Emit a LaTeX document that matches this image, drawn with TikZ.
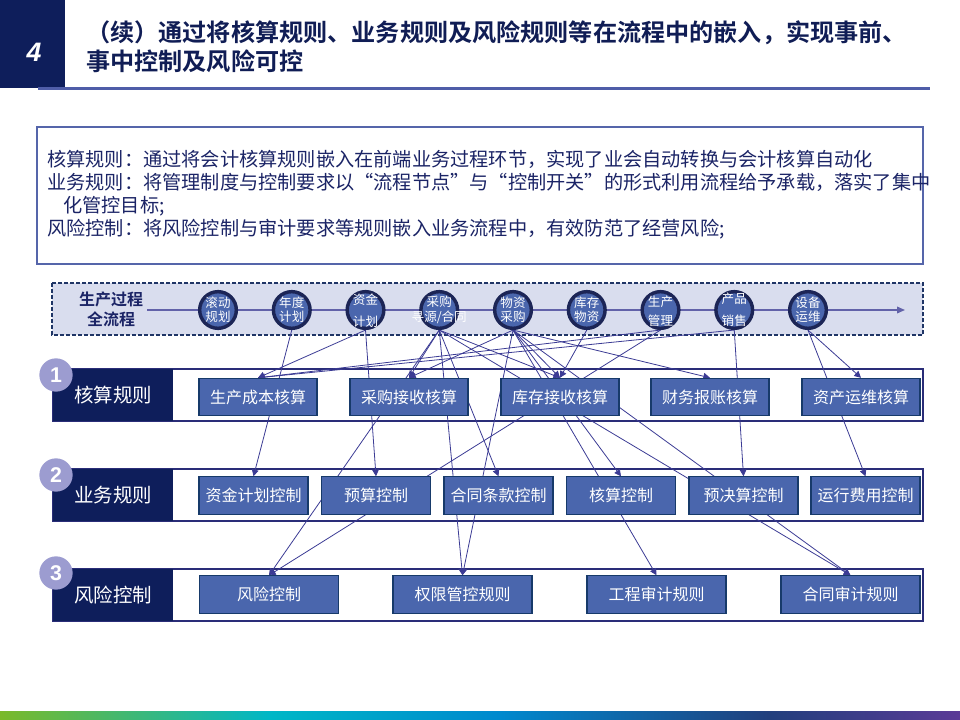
\documentclass[tikz,border=0pt]{standalone}
\usepackage{fontspec}
\setmainfont{Noto Sans CJK SC}[BoldFont={Noto Sans CJK SC Bold}]
\newfontfamily\numfont{Liberation Sans}
\usetikzlibrary{arrows.meta}

\definecolor{navy}{HTML}{0E1E5B}
\definecolor{titlecol}{HTML}{101D55}
\definecolor{boxblue}{HTML}{4A66AD}
\definecolor{boxedge}{HTML}{173A6A}
\definecolor{bandedge}{HTML}{2A2D78}
\definecolor{linkcol}{HTML}{3B3B94}
\definecolor{tagcol}{HTML}{9C9CD0}
\definecolor{flowfill}{HTML}{D9DDEE}
\definecolor{flowedge}{HTML}{1F3566}
\definecolor{ringcol}{HTML}{1C2556}
\definecolor{textcol}{HTML}{1B2466}
\definecolor{noteedge}{HTML}{5565AA}
\definecolor{barcol}{HTML}{4F5DA8}
\definecolor{fgreen}{HTML}{7AB929}
\definecolor{fcyan}{HTML}{00B7C6}
\definecolor{fblue}{HTML}{0089CE}
\definecolor{fnavy}{HTML}{213F7D}
\definecolor{fpurple}{HTML}{5B3A97}

% the path covers 25bp..75bp of the shading
\pgfdeclarehorizontalshading{footbar}{100bp}{color(0bp)=(fgreen); color(25bp)=(fgreen); color(39bp)=(fcyan); color(51bp)=(fblue); color(65bp)=(fnavy); color(75bp)=(fpurple); color(100bp)=(fpurple)}

\pgfdeclarelayer{bands}
\pgfdeclarelayer{links}
\pgfsetlayers{bands,links,main}

\begin{document}
\begin{tikzpicture}[x=0.75pt,y=-0.75pt]
    \tikzstyle{proc} = [circle,fill=boxblue,draw=ringcol,line width=2.6pt,minimum size=27.5pt,inner sep=0pt]
    \tikzstyle{ptext} = [text=white,font=\fontsize{9.4}{10}\selectfont,inner sep=0pt]
    \tikzstyle{rulebox} = [rectangle,fill=boxblue,draw=boxedge,line width=0.8pt,text=white,font=\fontsize{12}{14}\selectfont,minimum height=28pt,inner sep=0pt]
    \tikzstyle{band} = [draw=bandedge,line width=1pt,fill=white]
    \tikzstyle{rowtag} = [fill=navy,text=white,font=\fontsize{14.6}{16}\selectfont,minimum width=90pt,minimum height=39pt,inner sep=0pt]
    \tikzstyle{numtag} = [circle,fill=tagcol,text=white,minimum size=25pt,inner sep=0pt,font=\numfont\bfseries\fontsize{16}{16}\selectfont]
    \tikzstyle{link} = [draw=linkcol,line width=0.6pt,-{Triangle[length=5pt,width=5pt]}]

    \useasboundingbox (0,0) rectangle (960,720);

    % header
    \fill[navy] (0,0) rectangle (65,88);
    \node[text=white,font=\numfont\bfseries\itshape\fontsize{20}{20}\selectfont] (num) at (34,52) {4};
    \node[anchor=west,align=left,text=titlecol,font=\bfseries\fontsize{18.1}{22}\selectfont,inner sep=0pt] (title) at (86,47)
        {（续）通过将核算规则、业务规则及风险规则等在流程中的嵌入，实现事前、\\事中控制及风险可控};
    \draw[barcol,line width=2.3pt] (38,88.5) -- (930,88.5);

    % notes
    \draw[noteedge,line width=0.8pt,fill=white] (37,127) rectangle (923,264);
    \node[anchor=west,align=left,text=textcol,font=\fontsize{14.4}{17.25}\selectfont,inner sep=0pt] (notes) at (47,195)
        {核算规则：通过将会计核算规则嵌入在前端业务过程环节，实现了业会自动转换与会计核算自动化\\
         业务规则：将管理制度与控制要求以“流程节点”与“控制开关”的形式利用流程给予承载，落实了集中\\
         \hspace*{12pt}化管控目标;\\
         风险控制：将风险控制与审计要求等规则嵌入业务流程中，有效防范了经营风险;};

    \begin{pgfonlayer}{bands}
    \draw[draw=flowedge,fill=flowfill,dashed,dash pattern=on 3pt off 1.5pt,line width=0.9pt] (52,283) rectangle (923,335);
    \draw[band] (53,369) rectangle (923,421);
    \draw[band] (53,469) rectangle (923,521);
    \draw[band] (53,569) rectangle (923,621);
    \end{pgfonlayer}

    % process flow
    \node[align=center,text=textcol,font=\bfseries\fontsize{12}{15}\selectfont] (flow) at (111,309) {生产过程\\全流程};
    \coordinate (fs) at (147,310);
    \coordinate (fe) at (905,310);

    \node[proc,label={[ptext,yshift=5.2pt]center:滚动},label={[ptext,yshift=-4.8pt]center:规划}] (P1) at (218,310) {};
    \node[proc,label={[ptext,yshift=5.2pt]center:年度},label={[ptext,yshift=-5.2pt]center:计划}] (P2) at (291.75,310) {};
    \node[proc,label={[ptext,yshift=7.5pt]center:资金},label={[ptext,yshift=-9pt]center:计划}] (P3) at (365.5,310) {};
    \node[proc,label={[ptext,yshift=6pt]center:采购},label={[ptext,yshift=-5.2pt]center:寻源/合同}] (P4) at (439.25,310) {};
    \node[proc,label={[ptext,yshift=5.2pt]center:物资},label={[ptext,yshift=-5.2pt]center:采购}] (P5) at (513,310) {};
    \node[proc,label={[ptext,yshift=5.2pt]center:库存},label={[ptext,yshift=-5.2pt]center:物资}] (P6) at (586.75,310) {};
    \node[proc,label={[ptext,yshift=6pt]center:生产},label={[ptext,yshift=-8.2pt]center:管理}] (P7) at (660.5,310) {};
    \node[proc,label={[ptext,yshift=8.2pt]center:产品},label={[ptext,yshift=-8.2pt]center:销售}] (P8) at (734.25,310) {};
    \node[proc,label={[ptext,yshift=5.2pt]center:设备},label={[ptext,yshift=-5.2pt]center:运维}] (P9) at (808,310) {};

    % rows
    \node[rowtag] (R1) at (113,395) {核算规则};
    \node[rowtag] (R2) at (113,495) {业务规则};
    \node[rowtag] (R3) at (113,595) {风险控制};
    \node[numtag] (N1) at (56,375) {1};
    \node[numtag] (N2) at (56,475) {2};
    \node[numtag] (N3) at (56,573) {3};

    \node[rulebox,minimum width=88.5pt] (A1) at (258,397) {生产成本核算};
    \node[rulebox,minimum width=88.5pt] (A2) at (409,397) {采购接收核算};
    \node[rulebox,minimum width=88.5pt] (A3) at (560,397) {库存接收核算};
    \node[rulebox,minimum width=88.5pt] (A4) at (710,397) {财务报账核算};
    \node[rulebox,minimum width=88.5pt] (A5) at (861,397) {资产运维核算};

    \node[rulebox,minimum width=81.75pt] (B1) at (253.5,495.5) {资金计划控制};
    \node[rulebox,minimum width=81.75pt] (B2) at (376,495.5) {预算控制};
    \node[rulebox,minimum width=81.75pt] (B3) at (498.5,495.5) {合同条款控制};
    \node[rulebox,minimum width=81.75pt] (B4) at (621,495.5) {核算控制};
    \node[rulebox,minimum width=81.75pt] (B5) at (743.5,495.5) {预决算控制};
    \node[rulebox,minimum width=81.75pt] (B6) at (865.5,495.5) {运行费用控制};

    \node[rulebox,minimum width=104.25pt] (C1) at (269,594.5) {风险控制};
    \node[rulebox,minimum width=104.25pt] (C2) at (462.5,594.5) {权限管控规则};
    \node[rulebox,minimum width=104.25pt] (C3) at (656.5,594.5) {工程审计规则};
    \node[rulebox,minimum width=104.25pt] (C4) at (850.5,594.5) {合同审计规则};

    \begin{pgfonlayer}{links}
    \draw[draw=linkcol!80,line width=1pt,-{Triangle[length=6pt,width=5pt]}] (fs) -- (fe);

    \draw[link] (P2.south) -- (B1.north);
    \draw[link] (P3.south) -- (A1.north);
    \draw[link] (P3.south) -- (B2.north);
    \draw[link] (P4.south) -- (A2.north);
    \draw[link] (P4.south) -- (A3.north);
    \draw[link] (P4.south) -- (B3.north);
    \draw[link] (P4.south) -- (C1.north);
    \draw[link] (P4.south) -- (C2.north);
    \draw[link] (P4.south) -- (C4.north);
    \draw[link] (P5.south) -- (A2.north);
    \draw[link] (P5.south) -- (A3.north);
    \draw[link] (P5.south) -- (A4.north);
    \draw[link] (P5.south) -- (B4.north);
    \draw[link] (P5.south) -- (C2.north);
    \draw[link] (P5.south) -- (C3.north);
    \draw[link] (P5.south) -- (C4.north);
    \draw[link] (P6.south) -- (A3.north);
    \draw[link] (P7.south) -- (A1.north);
    \draw[link] (P7.south) -- (C1.north);
    \draw[link] (P8.south) -- (A1.north);
    \draw[link] (P8.south) -- (B5.north);
    \draw[link] (P9.south) -- (A5.north);
    \draw[link] (P9.south) -- (B6.north);
    \end{pgfonlayer}

    % footer
    \shade[shading=footbar] (0,711) rectangle (960,720);

\end{tikzpicture}
\end{document}
